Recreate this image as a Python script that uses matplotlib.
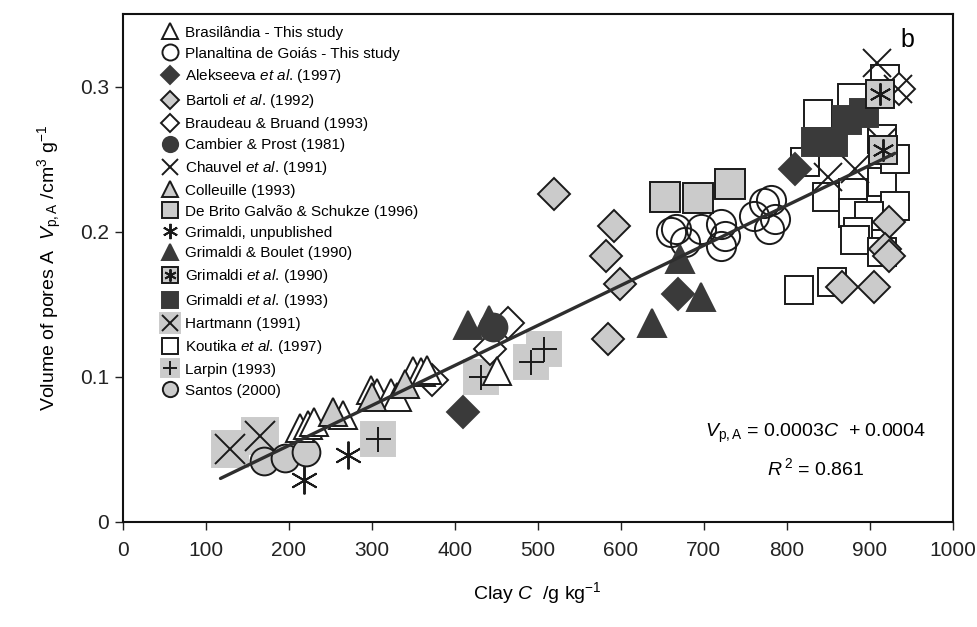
import matplotlib
matplotlib.use("Agg")
import matplotlib.pyplot as plt
from matplotlib.legend_handler import HandlerTuple
from matplotlib import font_manager

# ---------------- data ----------------
brasilandia_C = [214, 223, 230, 266, 299, 307, 323, 331, 350, 359, 367, 451]
brasilandia_V = [0.065, 0.067, 0.069, 0.074, 0.091, 0.089, 0.089, 0.086, 0.104, 0.103, 0.105, 0.104]
planaltina_C = [661, 667, 677, 697, 721, 725, 721, 761, 773, 781, 786, 778]
planaltina_V = [0.200, 0.202, 0.193, 0.202, 0.205, 0.197, 0.190, 0.211, 0.220, 0.222, 0.209, 0.202]
alekseeva_C = [410, 669, 810]
alekseeva_V = [0.076, 0.157, 0.243]
bartoli_C = [520, 592, 582, 599, 585, 923, 918, 923, 866, 905]
bartoli_V = [0.226, 0.204, 0.183, 0.164, 0.126, 0.207, 0.188, 0.183, 0.162, 0.162]
braudeau_C = [373, 443, 464, 935]
braudeau_V = [0.098, 0.119, 0.137, 0.298]
cambier_C = [446]
cambier_V = [0.134]
chauvel_C = [909, 934, 850, 882, 915]
chauvel_V = [0.316, 0.298, 0.238, 0.243, 0.262]
colleuille_C = [254, 300, 340]
colleuille_V = [0.076, 0.086, 0.095]
debrito_C = [653, 693, 731]
debrito_V = [0.224, 0.223, 0.233]
grimaldi_unpub_C = [218, 271]
grimaldi_unpub_V = [0.029, 0.046]
grimaldi_boulet_C = [416, 441, 637, 671, 697]
grimaldi_boulet_V = [0.136, 0.139, 0.137, 0.181, 0.155]
grimaldi1990_C = [912, 916]
grimaldi1990_V = [0.295, 0.256]
grimaldi1993_C = [835, 855, 873, 893]
grimaldi1993_V = [0.262, 0.262, 0.277, 0.282]
hartmann_C = [130, 166]
hartmann_V = [0.050, 0.059]
koutika_C = [838, 879, 822, 848, 880, 915, 930, 930, 880, 899, 886, 882, 915, 814, 854, 915, 918]
koutika_V = [0.281, 0.292, 0.248, 0.224, 0.227, 0.234, 0.250, 0.218, 0.213, 0.211, 0.200, 0.194,
             0.186, 0.160, 0.165, 0.264, 0.305]
larpin_C = [308, 432, 492, 508]
larpin_V = [0.057, 0.100, 0.110, 0.119]
santos_C = [170, 196, 221]
santos_V = [0.042, 0.044, 0.048]
fit_C = [118, 930]
fit_V = [0.030, 0.254]

x_ticks = [0, 100, 200, 300, 400, 500, 600, 700, 800, 900, 1000]
y_ticks = [0, 0.1, 0.2, 0.3]
y_tick_labels = ["0", "0.1", "0.2", "0.3"]

# ---------------- fonts ----------------
avail = {f.name for f in font_manager.fontManager.ttflist}
main_font = "Liberation Sans Narrow" if "Liberation Sans Narrow" in avail else "Liberation Sans"
plt.rcParams["font.family"] = [main_font, "DejaVu Sans"]
plt.rcParams["mathtext.fontset"] = "custom"
plt.rcParams["mathtext.rm"] = main_font
plt.rcParams["mathtext.it"] = main_font + ":italic"
plt.rcParams["mathtext.bf"] = main_font + ":bold"

DARK = "#3a3a3a"
GRAY = "#cbcbcb"
EC = "#1a1a1a"

fig = plt.figure(figsize=(9.77, 6.27), dpi=100)
ax = fig.add_axes([0.1254, 0.1675, 0.8500, 0.8102])

big = 20  # marker size in points
lw = 1.4

def plot(C, V, **kw):
    return ax.plot(C, V, linestyle="none", **kw)[0]

z = 3
h_koutika = plot(koutika_C, koutika_V, marker="s", ms=big, mfc="white", mec=EC, mew=lw, zorder=z)
h_chauvel = plot(chauvel_C, chauvel_V, marker="x", ms=big, mec=EC, mew=lw, zorder=z + 1)
h_g1993 = plot(grimaldi1993_C, grimaldi1993_V, marker="s", ms=big, mfc=DARK, mec=DARK, mew=lw, zorder=z + 1)
h_g1990a = plot(grimaldi1990_C, grimaldi1990_V, marker="s", ms=big, mfc=GRAY, mec=EC, mew=lw, zorder=z + 1)
h_g1990b = plot(grimaldi1990_C, grimaldi1990_V, marker=(6, 2, 0), ms=big * 0.8, mec=EC, mew=lw, zorder=z + 1)
h_hartA = plot(hartmann_C, hartmann_V, marker="s", ms=big * 1.3, mfc=GRAY, mec=GRAY, mew=lw, zorder=z)
h_hartB = plot(hartmann_C, hartmann_V, marker="x", ms=big * 1.1, mec=EC, mew=lw, zorder=z)
h_santos = plot(santos_C, santos_V, marker="o", ms=big, mfc=GRAY, mec=EC, mew=lw, zorder=z + 1)
h_unpub = plot(grimaldi_unpub_C, grimaldi_unpub_V, marker=(6, 2, 0), ms=big, mec=EC, mew=lw, zorder=z)
h_larpA = plot(larpin_C, larpin_V, marker="s", ms=big * 1.2, mfc=GRAY, mec=GRAY, mew=lw, zorder=z)
h_larpB = plot(larpin_C, larpin_V, marker="+", ms=big * 0.9, mec=EC, mew=lw, zorder=z)
h_bras = plot(brasilandia_C, brasilandia_V, marker="^", ms=big, mfc="white", mec=EC, mew=lw, zorder=z + 1)
h_coll = plot(colleuille_C, colleuille_V, marker="^", ms=big, mfc=GRAY, mec=EC, mew=lw, zorder=z + 1)
h_braud = plot(braudeau_C, braudeau_V, marker="D", ms=big * 0.8, mfc="white", mec=EC, mew=lw, zorder=z)
h_bart = plot(bartoli_C, bartoli_V, marker="D", ms=big * 0.8, mfc=GRAY, mec=EC, mew=lw, zorder=z + 2)
h_plan = plot(planaltina_C, planaltina_V, marker="o", ms=big * 1.05, mfc="none", mec=EC, mew=lw, zorder=z + 2)
h_debrito = plot(debrito_C, debrito_V, marker="s", ms=big * 1.05, mfc=GRAY, mec=EC, mew=lw, zorder=z)
h_gb = plot(grimaldi_boulet_C, grimaldi_boulet_V, marker="^", ms=big, mfc=DARK, mec=DARK, mew=lw, zorder=z + 2)
h_camb = plot(cambier_C, cambier_V, marker="o", ms=big, mfc=DARK, mec=DARK, mew=lw, zorder=z + 2)
h_alek = plot(alekseeva_C, alekseeva_V, marker="D", ms=big * 0.8, mfc=DARK, mec=DARK, mew=lw, zorder=z + 2)

ax.plot(fit_C, fit_V, color="#2e2e2e", lw=2.4, zorder=10, solid_capstyle="round")

ax.set_xlim(0, 1000)
ax.set_ylim(0, 0.35)
ax.set_xticks(x_ticks)
ax.set_yticks(y_ticks)
ax.set_yticklabels(y_tick_labels)
ax.tick_params(axis="both", direction="out", length=6, width=1, labelsize=15, colors="#222222")
ax.tick_params(axis="x", pad=8)
for s in ax.spines.values():
    s.set_linewidth(1.5)
    s.set_color("#111111")

ax.set_xlabel(r"Clay $C$  /g kg$^{-1}$", fontsize=14, labelpad=14)
ax.set_ylabel(r"Volume of pores A  $V_{\rm p,A}$ /cm$^3$ g$^{-1}$", fontsize=14, labelpad=12)

ax.text(0.945, 0.948, "b", transform=ax.transAxes, fontsize=18, ha="center", va="center", family="Liberation Sans")

ax.text(0.835, 0.175, r"$V_{\rm p,A}$ = 0.0003$C$  + 0.0004", transform=ax.transAxes,
        fontsize=14, ha="center", va="center")
ax.text(0.835, 0.105, r"$R^{\,2}$ = 0.861", transform=ax.transAxes, fontsize=14, ha="center", va="center")

# ---------------- legend ----------------
handles = [h_bras, h_plan, h_alek, h_bart, h_braud, h_camb, h_chauvel, h_coll, h_debrito, h_unpub,
           h_gb, (h_g1990a, h_g1990b), h_g1993, (h_hartA, h_hartB), h_koutika, (h_larpA, h_larpB), h_santos]
labels = ["Brasilândia - This study", "Planaltina de Goiás - This study",
          r"Alekseeva $\it{et\ al}$. (1997)", r"Bartoli $\it{et\ al}$. (1992)",
          "Braudeau & Bruand (1993)", "Cambier & Prost (1981)", r"Chauvel $\it{et\ al}$. (1991)",
          "Colleuille (1993)", "De Brito Galvão & Schukze (1996)", "Grimaldi, unpublished",
          "Grimaldi & Boulet (1990)", r"Grimaldi $\it{et\ al}$. (1990)", r"Grimaldi $\it{et\ al}$. (1993)",
          "Hartmann (1991)", r"Koutika $\it{et\ al}$. (1997)", "Larpin (1993)", "Santos (2000)"]
leg = ax.legend(handles, labels, loc="upper left", bbox_to_anchor=(0.035, 0.998), frameon=False,
                fontsize=11, markerscale=0.55, handlelength=1.0, handletextpad=0.5,
                labelspacing=0.45, borderaxespad=0.3,
                handler_map={tuple: HandlerTuple(ndivide=1, pad=0)})

fig.savefig("out.png", dpi=100)
